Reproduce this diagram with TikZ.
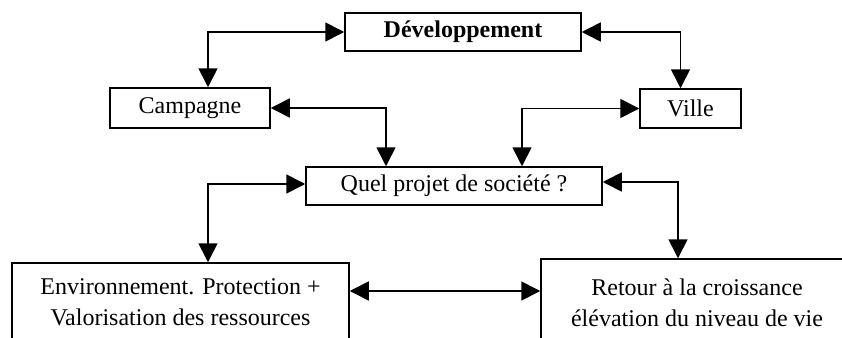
\documentclass[tikz,border=0pt]{standalone}
\usepackage{fontspec}
\setmainfont{Liberation Serif}
\usetikzlibrary{arrows.meta}

\begin{document}
\begin{tikzpicture}[x=1pt, y=-1pt,
		box/.style={draw, line width=1.5pt, inner sep=0pt, font=\fontsize{24}{31}\selectfont, align=center},
		link/.style={line width=1.7pt, {Triangle[length=19pt,width=19pt]}-{Triangle[length=19pt,width=19pt]}}]
		\useasboundingbox (0,0) rectangle (842,337);
		\clip (0,0) rectangle (842,337);
		
		% Top level
		\node[box, minimum width=236, minimum height=38, font=\fontsize{24}{31}\selectfont\bfseries] (dev) at (463,32) {Développement};
		\node[box, minimum width=160, minimum height=40] (camp) at (190,108) {Campagne};
		\node[box, minimum width=101, minimum height=39] (ville) at (690.5,108.5) {Ville};
		
		% Central question
		\node[box, minimum width=296, minimum height=38] (quel) at (454,186) {Quel projet de société ?};
		
		% Bottom boxes (cut by the page edge)
		\node[box, minimum width=337, minimum height=78] (env) at (180.5,302) {Environnement. Protection +\\Valorisation des ressources};
		\node[box, minimum width=312, minimum height=88] (retour) at (697,303) {Retour à la croissance\\élévation du niveau de vie};
		
		% Connections
		\draw[link] (dev.west) -| ([xshift=18pt]camp.north);
		\draw[link] (dev.east) -| ([xshift=-10pt]ville.north);
		\draw[link] (camp.east) -| ([xshift=-68pt]quel.north);
		\draw[link] (ville.west) -| ([xshift=68pt]quel.north);
		\draw[link] ([yshift=2pt]quel.west) -| ([xshift=27.5pt]env.north);
		\draw[link] ([yshift=4pt]quel.east) -| ([xshift=-19pt]retour.north);
		\draw[link] ([yshift=11pt]env.east) -- ([yshift=11pt]env.east -| retour.west);
	\end{tikzpicture}
\end{document}
